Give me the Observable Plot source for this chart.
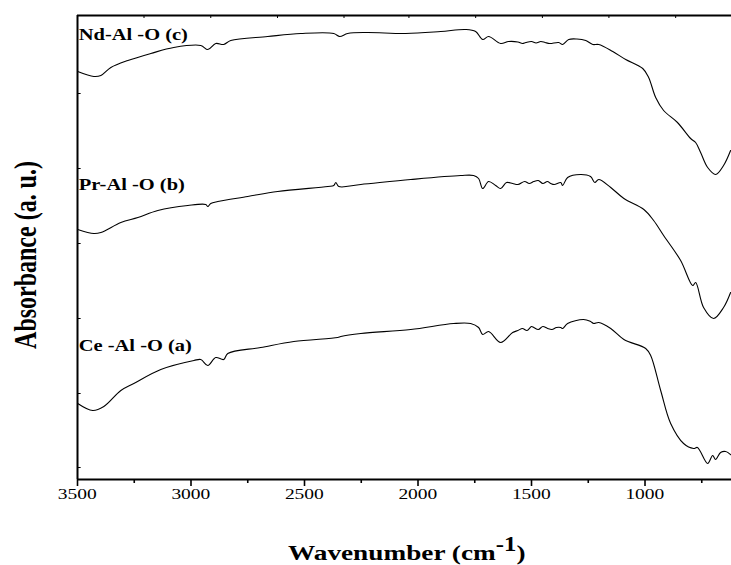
<!DOCTYPE html>
<html><head><meta charset="utf-8">
<script src="https://cdn.jsdelivr.net/npm/d3@7"></script>
<script src="https://cdn.jsdelivr.net/npm/@observablehq/plot@0.6"></script>
<style>
html,body{margin:0;padding:0;background:#fff;}
#chart svg{display:block;}
</style></head><body><div id="chart"></div>
<script>
// Wavenumbers (cm-1) and absorbance (arbitrary units, offset traces)
const ndWn  = [3499,3428,3397,3353,3278,3177,3076,2957,2926,2891,2856,2825,2662,2516,2371,2345,2310,2226,2054,1900,1790,1746,1715,1689,1636,1601,1560,1540,1525,1500,1480,1459,1440,1420,1380,1363,1336,1300,1261,1230,1204,1142,1085,1010,984,953,918,857,799,777,755,724,689,654,623];
const ndAbs = [408,403,404,412,419,426,432,434,430,436,435,439,443,446,446,443,446,447,446,448,450,448,440,443,436,438,437.5,436,437,438,436.5,438,437,436,437,435,440,440.5,439,435,435,428,420,411,402,382,369,357,341,337,327,312,305,314,329];

const prWn  = [3499,3428,3397,3309,3234,3146,3014,2935,2926,2913,2882,2750,2618,2397,2371,2362,2349,2252,2032,1812,1755,1733,1715,1689,1658,1636,1610,1583,1560,1530,1510,1490,1470,1450,1430,1415,1400,1371,1363,1341,1284,1240,1221,1204,1151,1093,1005,962,918,843,790,777,742,698,654,623];
const prAbs = [250,246,247,257,262,269,274,275,273,276,278,283,288,293,294,297,293,295,300,304,304,301,291,298,294,291,297,296,295,298,296,298,299,296,298,296,295,297,294,302,305,303,297,300,292,281,270,259,244,219,194,197,172,161,172,187];

const ceWn  = [3499,3433,3384,3309,3252,3133,2987,2957,2926,2891,2856,2838,2693,2547,2354,2340,2252,2032,1843,1768,1733,1715,1689,1636,1583,1560,1540,1520,1500,1490,1470,1450,1429,1410,1390,1371,1363,1341,1271,1240,1226,1204,1151,1093,997,975,931,887,830,786,769,724,702,689,667,645,618];
const ceAbs = [76,69,73,89,96,110,119,120,114,122,120,126,132,138,142,143,146,150,156,156,152,145,148,137,147,149,151,149,153,152,150,153,151,150,152,152,151,156,160,158,156,157,151,140,131,124,89,56,36,31,32,16,24,20,27,28,24];

const seriesNames = ["Ce -Al -O (a)", "Pr-Al -O (b)", "Nd-Al -O (c)"];
const labelLevels = [134, 295, 445];

const majorTicks = [3500, 3000, 2500, 2000, 1500, 1000];
const minorTicks = [3250, 2750, 2250, 1750, 1250, 750];
const topTicks = [3207, 2913, 2619, 2326, 2040, 1746, 1452, 1159, 865];
const leftTicks = [12, 86, 161, 236, 311, 386];

const rows = [];
[[ceWn, ceAbs, seriesNames[0]], [prWn, prAbs, seriesNames[1]], [ndWn, ndAbs, seriesNames[2]]]
  .forEach(([w, a, name]) => w.forEach((v, i) => rows.push({wn: v, abs: a[i], series: name})));
const labelRows = seriesNames.map((name, i) => ({name, wn: 3500, level: labelLevels[i]}));

const chart = Plot.plot({
  width: 731, height: 565,
  marginTop: 15, marginBottom: 86, marginLeft: 77, marginRight: 0,
  style: {fontFamily: "'Liberation Serif', 'Times New Roman', serif", background: "#fff", color: "#000"},
  x: {domain: [3500, 619]},
  y: {domain: [0, 464], axis: null},
  marks: [
    Plot.line(rows, {x: "wn", y: "abs", z: "series", stroke: "#000", strokeWidth: 1.1, curve: "catmull-rom"}),
    Plot.ruleY([0], {stroke: "#000", strokeWidth: 2}),
    Plot.ruleY([464], {stroke: "#000", strokeWidth: 2}),
    Plot.ruleX([3500], {y1: 0, y2: 464, stroke: "#000", strokeWidth: 2}),
    Plot.axisX({ticks: majorTicks, tickSize: 7, tickPadding: 2, tickFormat: d3.format("d"), fontSize: 15, strokeWidth: 1.6, label: null}),
    Plot.ruleX(minorTicks, {y1: 0, y2: -4, stroke: "#000", strokeWidth: 1.6}),
    Plot.ruleX(topTicks, {y1: 464, y2: 461, stroke: "#000", strokeWidth: 1}),
    Plot.ruleY(leftTicks, {x1: 3500, x2: 3484, stroke: "#000", strokeWidth: 1}),
    Plot.text(labelRows, {x: "wn", y: "level", text: "name", textAnchor: "start", dx: 2, fontSize: 16, fontWeight: "bold", fill: "#000"})
  ]
});
document.getElementById("chart").appendChild(chart);

const svg = d3.select(chart);
const svgLeft = chart.getBoundingClientRect().left;
// widen glyphs horizontally about their anchor point (the reference text is stretched)
function stretch(sel, s, anchor) {
  sel.each(function() {
    const r = this.getBoundingClientRect();
    const cx = (anchor === "middle" ? r.left + r.width / 2 : r.left) - svgLeft;
    const t = this.getAttribute("transform") || "";
    this.setAttribute("transform", `translate(${cx},0) scale(${s},1) translate(${-cx},0) ${t}`);
  });
}
stretch(svg.selectAll('g[aria-label="x-axis tick label"] text'), 1.3, "middle");
stretch(svg.selectAll('g[aria-label="text"] text'), 1.28, "start");

// Y axis title
svg.append("text")
  .attr("transform", "translate(36,255) scale(1.28,1) rotate(-90)")
  .attr("text-anchor", "middle")
  .attr("font-family", "'Liberation Serif', 'Times New Roman', serif")
  .attr("font-weight", "bold").attr("font-size", 24).attr("fill", "#000")
  .text("Absorbance (a. u.)");

// X axis title with superscript
const xt = svg.append("text")
  .attr("transform", "translate(288,560) scale(1.24,1)")
  .attr("text-anchor", "start")
  .attr("font-family", "'Liberation Serif', 'Times New Roman', serif")
  .attr("font-weight", "bold").attr("font-size", 22).attr("fill", "#000");
xt.append("tspan").text("Wavenumber (cm");
xt.append("tspan").attr("dy", -9).attr("font-size", 20).text("-1");
xt.append("tspan").attr("dy", 9).text(")");
</script>
</body></html>
